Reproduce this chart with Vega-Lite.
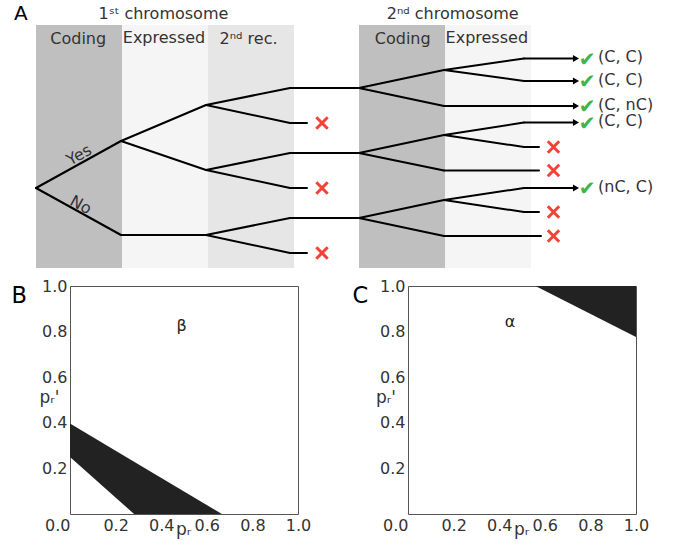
{
 "$schema": "https://vega.github.io/schema/vega-lite/v6.json",
 "padding": 0,
 "background": "white",
 "bounds": "flush",
 "spacing": 110,
 "config": {
  "view": {"stroke": "#555555", "strokeWidth": 1},
  "axis": {"labelFont": "DejaVu Sans", "labelFontSize": 16, "labelColor": "#333333", "titleFont": "DejaVu Sans", "titleFontSize": 17, "titleFontWeight": "normal", "titleColor": "#333333", "ticks": false, "tickSize": 0, "domain": false, "grid": false},
  "text": {"font": "DejaVu Sans"}
 },
 "datasets": {
  "canvas": [{"x": 0, "y": 0, "x2": 673, "y2": 544}],
  "bands": [
   {"x": 35, "x2": 121, "y": 24, "y2": 267, "kind": "coding"},
   {"x": 121, "x2": 207, "y": 24, "y2": 267, "kind": "expressed"},
   {"x": 207, "x2": 293, "y": 24, "y2": 267, "kind": "rec"},
   {"x": 358, "x2": 444, "y": 24, "y2": 267, "kind": "coding"},
   {"x": 444, "x2": 530, "y": 24, "y2": 267, "kind": "expressed"}
  ],
  "heads": [
   {"x": 162.4, "y": 18.3, "text": "1ˢᵗ chromosome"},
   {"x": 451.7, "y": 18.3, "text": "2ⁿᵈ chromosome"},
   {"x": 77.2, "y": 43, "text": "Coding"},
   {"x": 163, "y": 41.5, "text": "Expressed"},
   {"x": 247.5, "y": 43, "text": "2ⁿᵈ rec."},
   {"x": 401.7, "y": 43, "text": "Coding"},
   {"x": 485.8, "y": 41.5, "text": "Expressed"}
  ],
  "edges": [
   {"x": 35, "y": 187, "x2": 120, "y2": 140},
   {"x": 35, "y": 187, "x2": 120, "y2": 234},
   {"x": 120, "y": 140, "x2": 205, "y2": 104},
   {"x": 120, "y": 140, "x2": 205, "y2": 169},
   {"x": 120, "y": 234, "x2": 205, "y2": 234},
   {"x": 205, "y": 104, "x2": 289, "y2": 87},
   {"x": 205, "y": 104, "x2": 289, "y2": 122},
   {"x": 205, "y": 169, "x2": 289, "y2": 152},
   {"x": 205, "y": 169, "x2": 289, "y2": 187},
   {"x": 205, "y": 234, "x2": 289, "y2": 217},
   {"x": 205, "y": 234, "x2": 289, "y2": 252},
   {"x": 289, "y": 87, "x2": 358, "y2": 87},
   {"x": 289, "y": 122, "x2": 306, "y2": 122},
   {"x": 289, "y": 152, "x2": 358, "y2": 152},
   {"x": 289, "y": 187, "x2": 306, "y2": 187},
   {"x": 289, "y": 217, "x2": 358, "y2": 217},
   {"x": 289, "y": 252, "x2": 306, "y2": 252},
   {"x": 358, "y": 87, "x2": 443, "y2": 69},
   {"x": 358, "y": 87, "x2": 443, "y2": 105},
   {"x": 443, "y": 69, "x2": 523, "y2": 57.5},
   {"x": 443, "y": 69, "x2": 523, "y2": 80},
   {"x": 523, "y": 57.5, "x2": 572, "y2": 57.5},
   {"x": 523, "y": 80, "x2": 572, "y2": 80},
   {"x": 443, "y": 105, "x2": 572, "y2": 105},
   {"x": 358, "y": 152, "x2": 443, "y2": 134},
   {"x": 358, "y": 152, "x2": 443, "y2": 169.5},
   {"x": 443, "y": 134, "x2": 523, "y2": 121.5},
   {"x": 443, "y": 134, "x2": 523, "y2": 146},
   {"x": 523, "y": 121.5, "x2": 572, "y2": 121.5},
   {"x": 523, "y": 146, "x2": 538, "y2": 146},
   {"x": 443, "y": 169.5, "x2": 538, "y2": 169.5},
   {"x": 358, "y": 217, "x2": 443, "y2": 199},
   {"x": 358, "y": 217, "x2": 443, "y2": 235},
   {"x": 443, "y": 199, "x2": 523, "y2": 187},
   {"x": 443, "y": 199, "x2": 523, "y2": 211},
   {"x": 523, "y": 187, "x2": 572, "y2": 187},
   {"x": 523, "y": 211, "x2": 538, "y2": 211},
   {"x": 443, "y": 235, "x2": 540, "y2": 235}
  ],
  "ok": [
   {"x": 575, "y": 57.5, "label": "(C, C)"},
   {"x": 575, "y": 80, "label": "(C, C)"},
   {"x": 575, "y": 105, "label": "(C, nC)"},
   {"x": 575, "y": 121.5, "label": "(C, C)"},
   {"x": 575, "y": 187, "label": "(nC, C)"}
  ],
  "fail": [
   {"x": 321, "y": 122}, {"x": 321, "y": 187}, {"x": 321, "y": 252},
   {"x": 552.5, "y": 146}, {"x": 552.5, "y": 169.5}, {"x": 552.5, "y": 211}, {"x": 552.5, "y": 235}
  ],
  "regionB": [
   {"x": 0, "y": 0.397, "y2": 0.25},
   {"x": 0.281, "y": 0.2295, "y2": 0},
   {"x": 0.666, "y": 0, "y2": 0}
  ],
  "regionC": [
   {"x": 0.559, "y": 1, "y2": 1},
   {"x": 1, "y": 1, "y2": 0.776}
  ]
 },
 "hconcat": [
  {
   "width": 228,
   "height": 228,
   "resolve": {"scale": {"x": "independent", "y": "independent"}, "axis": {"x": "independent", "y": "independent"}},
   "layer": [
    {
     "encoding": {
      "x": {"field": "x", "type": "quantitative", "scale": {"domain": [0, 1], "nice": false, "zero": false},
            "axis": {"orient": "bottom", "values": [0, 0.2, 0.4, 0.6, 0.8, 1], "format": ".1f", "labelFlush": false, "labelPadding": 3,
                     "labelAlign": {"condition": {"test": "datum.value === 0", "value": "right"}, "value": "center"},
                     "title": "pᵣ", "titleX": 113, "titleY": 20, "titleAlign": "center", "titleBaseline": "alphabetic", "titleAngle": 0}},
      "y": {"field": "y", "type": "quantitative", "scale": {"domain": [0, 1], "nice": false, "zero": false},
            "axis": {"orient": "left", "values": [0.2, 0.4, 0.6, 0.8, 1], "format": ".1f", "labelPadding": 3,
                     "title": "pᵣ'", "titleAngle": 0, "titleX": -21, "titleY": 116.5, "titleAlign": "center", "titleBaseline": "alphabetic"}}
     },
     "layer": [
      {"data": {"name": "regionB"}, "mark": {"type": "area", "color": "#222222", "interpolate": "linear"}, "encoding": {"y2": {"field": "y2"}}},
      {"data": {"values": [{"x": 0.489, "y": 0.824, "label": "β"}]}, "mark": {"type": "text", "fontSize": 16, "color": "#222222", "baseline": "middle"}, "encoding": {"text": {"field": "label"}}}
     ]
    },
    {
     "encoding": {
      "x": {"field": "x", "type": "quantitative", "scale": {"domain": [69, 297], "nice": false, "zero": false}, "axis": null},
      "y": {"field": "y", "type": "quantitative", "scale": {"domain": [285, 513], "nice": false, "zero": false, "reverse": true}, "axis": null}
     },
     "layer": [
      {"data": {"name": "canvas"}, "mark": {"type": "rect", "opacity": 0}, "encoding": {"x2": {"field": "x2"}, "y2": {"field": "y2"}}},
      {"data": {"name": "bands"}, "mark": {"type": "rect"}, "encoding": {"x2": {"field": "x2"}, "y2": {"field": "y2"},
        "color": {"field": "kind", "type": "nominal", "scale": {"domain": ["coding", "expressed", "rec"], "range": ["#bfbfbf", "#f5f5f5", "#e6e6e6"]}, "legend": null}}},
      {"data": {"name": "heads"}, "mark": {"type": "text", "fontSize": 16, "color": "#333333", "align": "center", "baseline": "alphabetic"}, "encoding": {"text": {"field": "text"}}},
      {"data": {"name": "edges"}, "mark": {"type": "rule", "color": "#000000", "strokeWidth": 2, "strokeCap": "round"}, "encoding": {"x2": {"field": "x2"}, "y2": {"field": "y2"}}},
      {"data": {"name": "ok"}, "mark": {"type": "point", "shape": "triangle-right", "filled": true, "color": "#000000", "size": 50, "opacity": 1}, "encoding": {}},
      {"data": {"name": "ok"}, "mark": {"type": "text", "fontSize": 20, "color": "#3cb54a", "align": "center", "baseline": "middle", "dx": 11, "dy": 1}, "encoding": {"text": {"value": "✔"}}},
      {"data": {"name": "ok"}, "mark": {"type": "text", "fontSize": 16, "color": "#333333", "align": "left", "baseline": "middle", "dx": 22, "dy": -1.5}, "encoding": {"text": {"field": "label"}}},
      {"data": {"name": "fail"}, "mark": {"type": "point", "shape": "M-1,-1L1,1M-1,1L1,-1", "filled": false, "stroke": "#f44236", "strokeWidth": 3, "size": 130, "opacity": 1, "strokeCap": "butt"}, "encoding": {}},
      {"data": {"values": [{"x": 80.6, "y": 158.5, "text": "Yes"}]}, "mark": {"type": "text", "fontSize": 16, "color": "#333333", "align": "center", "baseline": "alphabetic", "angle": -28.7}, "encoding": {"text": {"field": "text"}}},
      {"data": {"values": [{"x": 77.4, "y": 208.5, "text": "No"}]}, "mark": {"type": "text", "fontSize": 16, "color": "#333333", "align": "center", "baseline": "alphabetic", "angle": 28.7}, "encoding": {"text": {"field": "text"}}},
      {"data": {"values": [{"x": 13, "y": 19.3, "text": "A"}]}, "mark": {"type": "text", "fontSize": 20, "color": "#000000", "align": "left", "baseline": "alphabetic"}, "encoding": {"text": {"field": "text"}}},
      {"data": {"values": [{"x": 10.5, "y": 301.7, "text": "B"}, {"x": 351.4, "y": 301.5, "text": "C"}]}, "mark": {"type": "text", "fontSize": 22.5, "color": "#000000", "align": "left", "baseline": "alphabetic"}, "encoding": {"text": {"field": "text"}}}
     ]
    }
   ]
  },
  {
   "width": 228,
   "height": 228,
   "encoding": {
    "x": {"field": "x", "type": "quantitative", "scale": {"domain": [0, 1], "nice": false, "zero": false},
          "axis": {"orient": "bottom", "values": [0, 0.2, 0.4, 0.6, 0.8, 1], "format": ".1f", "labelFlush": false, "labelPadding": 3,
                   "labelAlign": {"condition": {"test": "datum.value === 0", "value": "right"}, "value": "center"},
                   "title": "pᵣ", "titleX": 113, "titleY": 20, "titleAlign": "center", "titleBaseline": "alphabetic", "titleAngle": 0}},
    "y": {"field": "y", "type": "quantitative", "scale": {"domain": [0, 1], "nice": false, "zero": false},
          "axis": {"orient": "left", "values": [0.2, 0.4, 0.6, 0.8, 1], "format": ".1f", "labelPadding": 3,
                   "title": "pᵣ'", "titleAngle": 0, "titleX": -22.5, "titleY": 116.5, "titleAlign": "center", "titleBaseline": "alphabetic"}}
   },
   "layer": [
    {"data": {"name": "regionC"}, "mark": {"type": "area", "color": "#222222", "interpolate": "linear"}, "encoding": {"y2": {"field": "y2"}}},
    {"data": {"values": [{"x": 0.447, "y": 0.844, "label": "α"}]}, "mark": {"type": "text", "fontSize": 16, "color": "#222222", "baseline": "middle"}, "encoding": {"text": {"field": "label"}}}
   ]
  }
 ]
}
